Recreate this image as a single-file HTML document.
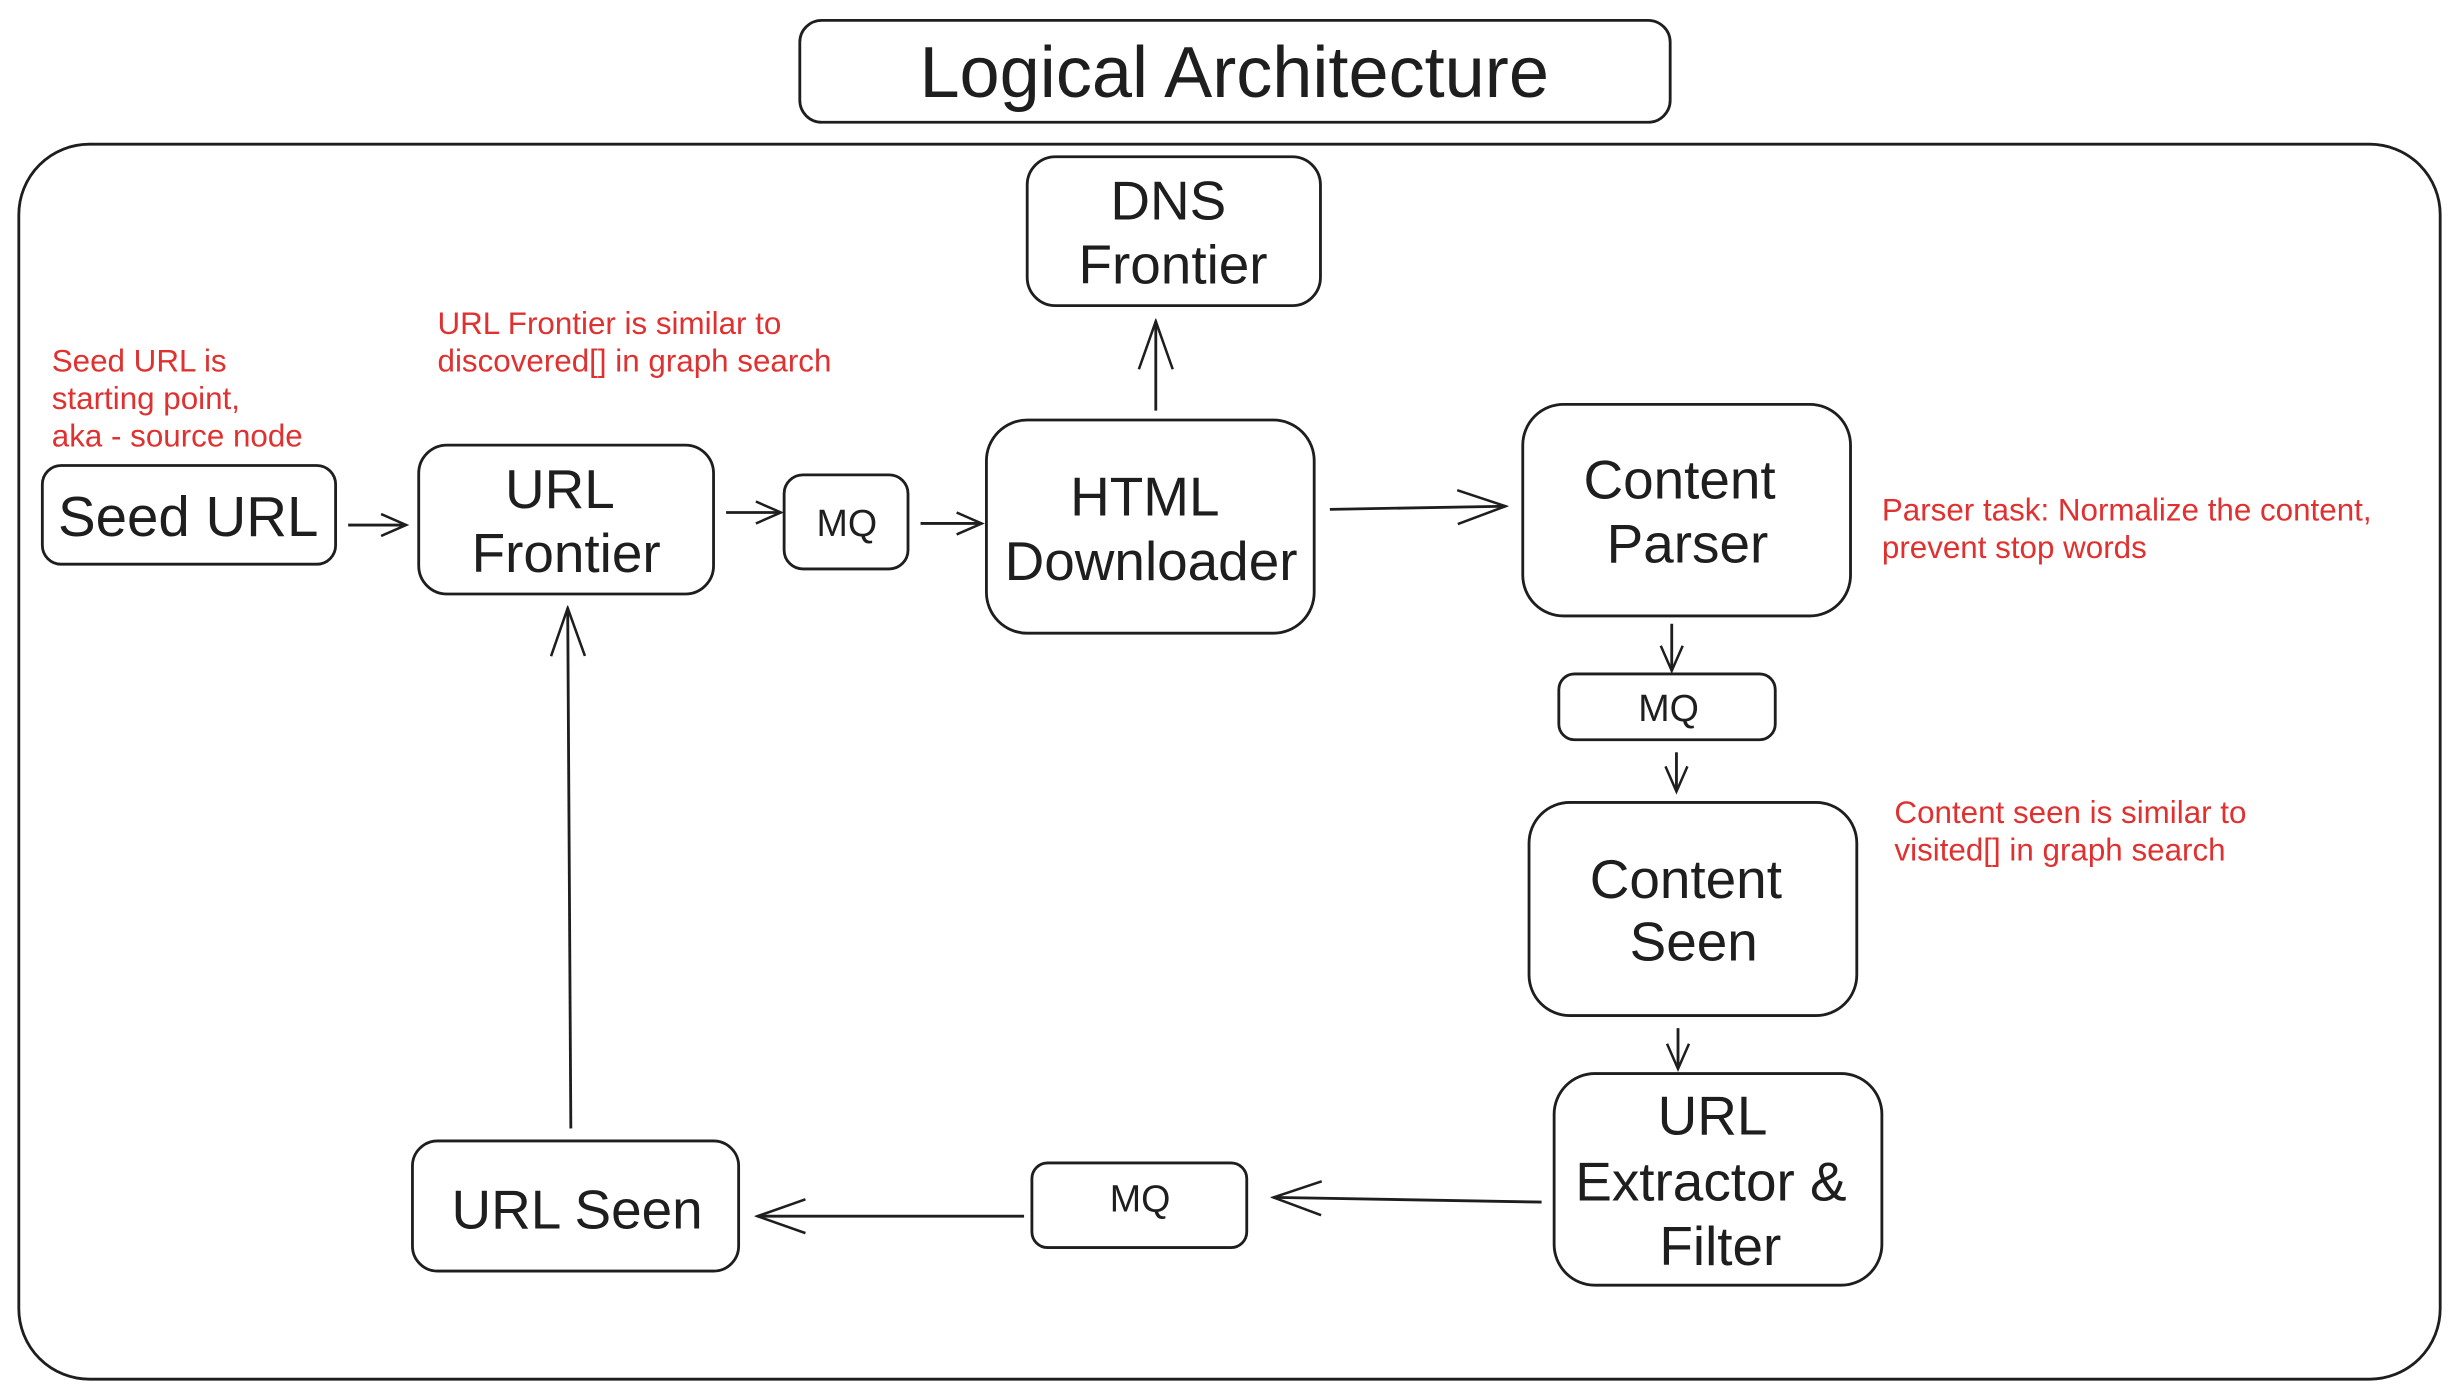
<!DOCTYPE html>
<html><head><meta charset="utf-8"><style>
html,body{margin:0;padding:0;background:#fff;}
svg{display:block;}
text{font-family:"Liberation Sans",sans-serif;fill:#1e1e1e;}
.r{fill:#e03131;font-size:20px;}
</style></head><body>
<svg width="2459" height="1398" viewBox="0 0 1568 892" preserveAspectRatio="none" xmlns="http://www.w3.org/2000/svg">
<defs><marker id="a" viewBox="0 0 20 20" refX="18" refY="10" markerWidth="20" markerHeight="20" markerUnits="userSpaceOnUse" orient="auto"><path d="M2,3 L18,10 L2,17" fill="none" stroke="#1e1e1e" stroke-width="1.6"/></marker>
<marker id="b" viewBox="0 0 40 40" refX="38" refY="20" markerWidth="36" markerHeight="36" markerUnits="userSpaceOnUse" orient="auto"><path d="M4,8 L38,20 L4,32" fill="none" stroke="#1e1e1e" stroke-width="1.8"/></marker></defs>
<g fill="none" stroke="#1e1e1e" stroke-width="1.8">
<rect x="510" y="13" width="555" height="65" rx="14"/>
<rect x="12" y="92" width="1544" height="788" rx="45"/>
<rect x="655" y="100" width="187" height="95" rx="18"/>
<rect x="27" y="297" width="187" height="63" rx="12"/>
<rect x="267" y="284" width="188" height="95" rx="18"/>
<rect x="500" y="303" width="79" height="60" rx="12"/>
<rect x="629" y="268" width="209" height="136" rx="26"/>
<rect x="971" y="258" width="209" height="135" rx="26"/>
<rect x="994" y="430" width="138" height="42" rx="10"/>
<rect x="975" y="512" width="209" height="136" rx="26"/>
<rect x="991" y="685" width="209" height="135" rx="26"/>
<rect x="658" y="742" width="137" height="54" rx="10"/>
<rect x="263" y="728" width="208" height="83" rx="16"/>
<line x1="222" y1="335" x2="259" y2="335" marker-end="url(#a)"/>
<line x1="463" y1="327" x2="498" y2="327" marker-end="url(#a)"/>
<line x1="587" y1="334" x2="626" y2="334" marker-end="url(#a)"/>
<line x1="848" y1="325" x2="960" y2="323" marker-end="url(#b)"/>
<line x1="737" y1="262" x2="737" y2="205" marker-end="url(#b)"/>
<line x1="1066" y1="398" x2="1066" y2="428" marker-end="url(#a)"/>
<line x1="1069" y1="480" x2="1069" y2="505" marker-end="url(#a)"/>
<line x1="1070" y1="656" x2="1070" y2="682" marker-end="url(#a)"/>
<line x1="983" y1="767" x2="812" y2="764" marker-end="url(#b)"/>
<line x1="653" y1="776" x2="483" y2="776" marker-end="url(#b)"/>
<line x1="364" y1="720" x2="362" y2="388" marker-end="url(#b)"/>
</g>
<g text-anchor="middle">
<text x="787" y="62" font-size="46">Logical Architecture</text>
<text x="745" y="140" font-size="35">DNS</text>
<text x="748" y="181" font-size="35">Frontier</text>
<text x="120" y="342" font-size="36">Seed URL</text>
<text x="357" y="324" font-size="35">URL</text>
<text x="361" y="365" font-size="35">Frontier</text>
<text x="540" y="342" font-size="24">MQ</text>
<text x="730" y="329" font-size="35">HTML</text>
<text x="734" y="370" font-size="35">Downloader</text>
<text x="1071" y="318" font-size="35">Content</text>
<text x="1076" y="359" font-size="35">Parser</text>
<text x="1064" y="460" font-size="24">MQ</text>
<text x="1075" y="573" font-size="35">Content</text>
<text x="1080" y="613" font-size="35">Seen</text>
<text x="1092" y="724" font-size="35">URL</text>
<text x="1091" y="766" font-size="35">Extractor &amp;</text>
<text x="1097" y="807" font-size="35">Filter</text>
<text x="727" y="773" font-size="24">MQ</text>
<text x="368" y="784" font-size="35">URL Seen</text>
</g>
<text class="r" x="33" y="237">Seed URL is</text>
<text class="r" x="33" y="261">starting point,</text>
<text class="r" x="33" y="285">aka - source node</text>
<text class="r" x="279" y="213">URL Frontier is similar to</text>
<text class="r" x="279" y="237">discovered[] in graph search</text>
<text class="r" x="1200" y="332">Parser task: Normalize the content,</text>
<text class="r" x="1200" y="356">prevent stop words</text>
<text class="r" x="1208" y="525">Content seen is similar to</text>
<text class="r" x="1208" y="549">visited[] in graph search</text>
</svg>
</body></html>
